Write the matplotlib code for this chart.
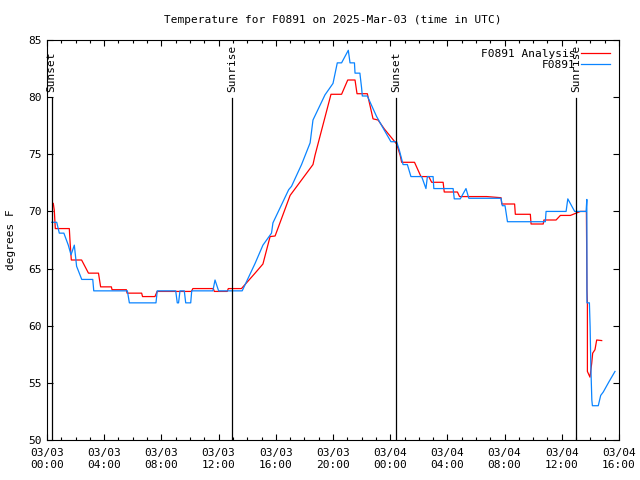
import numpy as np
import pandas as pd
import matplotlib
matplotlib.use('Agg')
import matplotlib.pyplot as plt
import matplotlib.dates as mdates
import matplotlib.transforms as mtransforms

plt.rcParams['font.family'] = ['DejaVu Sans Mono']
plt.rcParams['font.size'] = 8

base = pd.Timestamp('2025-03-03 00:00')

# analysis series: hours after 03/03 00:00 UTC, degrees F
ana_hours = [0.44, 0.51, 0.58, 1.56, 1.62, 1.70, 2.42, 2.90, 3.60, 3.75, 4.50, 4.55,
             5.55, 5.60, 6.62, 6.68, 7.55, 7.70, 10.1, 10.2, 11.63, 11.7, 12.6, 12.68,
             13.6, 14.55, 15.1, 15.6, 15.95, 17.0, 17.8, 18.6, 18.74, 19.2, 19.86, 20.6,
             21.03, 21.54, 21.68, 22.4, 22.8, 23.15, 23.6, 24.45, 24.7, 24.8, 25.7, 26.15,
             26.7, 26.9, 27.7, 27.78, 28.7, 28.85, 30.75, 31.75, 31.8, 32.7, 32.75, 33.8,
             33.85, 34.7, 34.75, 35.6, 35.9, 36.6, 37.3, 37.72, 37.74, 37.76, 37.79, 37.79,
             37.97, 38.09, 38.16, 38.32, 38.44, 38.79]
ana_temp = [70.7, 70.1, 68.5, 68.5, 67.2, 65.75, 65.75, 64.6, 64.6, 63.4, 63.4, 63.15,
            63.15, 62.85, 62.85, 62.55, 62.55, 63.0, 63.0, 63.25, 63.25, 63.0, 63.0, 63.25,
            63.25, 64.6, 65.4, 67.8, 67.85, 71.4, 72.75, 74.1, 74.9, 77.1, 80.25, 80.25,
            81.5, 81.5, 80.3, 80.3, 78.1, 78.0, 77.2, 75.9, 74.9, 74.3, 74.3, 73.05,
            73.05, 72.55, 72.55, 71.7, 71.7, 71.3, 71.3, 71.2, 70.65, 70.65, 69.75, 69.75,
            68.9, 68.9, 69.25, 69.25, 69.65, 69.65, 70.0, 70.0, 66.5, 63.1, 62.0, 56.0,
            55.5, 56.7, 57.6, 57.9, 58.75, 58.7]

# station observations
obs_hours = [0.33, 0.68, 0.86, 1.18, 1.49, 1.68, 1.91, 2.07, 2.43, 3.20, 3.27, 5.62,
             5.76, 7.62, 7.71, 9.0, 9.11, 9.2, 9.3, 9.6, 9.7, 10.05, 10.12, 11.6,
             11.75, 12.0, 13.65, 14.55, 15.1, 15.7, 15.8, 16.9, 17.1, 17.8, 18.4, 18.6,
             19.44, 20.0, 20.3, 20.6, 21.07, 21.19, 21.5, 21.54, 21.88, 22.0, 22.05, 22.4,
             23.05, 23.5, 24.05, 24.45, 24.63, 24.9, 25.2, 25.45, 26.2, 26.5, 26.6, 27.0,
             27.05, 28.4, 28.48, 28.9, 29.3, 29.5, 31.75, 31.84, 32.03, 32.2, 34.85, 34.9,
             36.3, 36.42, 36.9, 37.7, 37.75, 37.76, 37.93, 37.98, 38.03, 38.1, 38.14, 38.55,
             38.72, 38.9, 39.3, 39.72]
obs_temp = [69.05, 69.05, 68.1, 68.1, 67.05, 66.2, 67.05, 65.2, 64.05, 64.05, 63.05, 63.05,
            62.0, 62.0, 63.05, 63.05, 62.0, 62.0, 63.05, 63.05, 62.0, 62.0, 63.05, 63.05,
            64.0, 63.05, 63.05, 65.45, 67.05, 68.1, 69.0, 71.9, 72.2, 74.1, 76.0, 78.0,
            80.2, 81.2, 83.0, 83.0, 84.1, 83.0, 83.0, 82.1, 82.1, 80.8, 80.1, 80.1,
            78.3, 77.3, 76.1, 76.1, 75.4, 74.1, 74.1, 73.05, 73.05, 72.0, 73.05, 73.05,
            72.0, 72.0, 71.1, 71.1, 72.0, 71.15, 71.15, 70.5, 70.5, 69.1, 69.1, 70.0,
            70.0, 71.1, 70.0, 70.0, 71.05, 62.0, 62.0, 59.9, 56.5, 53.5, 53.0, 53.0,
            53.9, 54.2, 55.1, 56.0]

sun_hours = [0.33, 12.92, 24.43, 37.01]
sun_labels = ['Sunset', 'Sunrise', 'Sunset', 'Sunrise']


def to_time(hours):
    return base + pd.to_timedelta(np.asarray(hours), unit='h')


fig = plt.figure(figsize=(6.4, 4.8), dpi=100)
ax = fig.add_axes([47/640, 1 - 440/480, 572/640, 400/480])

ax.plot(to_time(ana_hours), ana_temp, c='#ff0000', lw=0.9, label='F0891 Analysis')
ax.plot(to_time(obs_hours), obs_temp, c='#0a84ff', lw=0.9, label='F0891')

trans = mtransforms.blended_transform_factory(ax.transData, ax.transAxes)
for t, lab in zip(to_time(sun_hours), sun_labels):
    ax.axvline(t, ymin=0, ymax=0.855, c='k', lw=0.9)
    ax.text(t, 0.87, lab, rotation=90, transform=trans, ha='center', va='bottom', fontsize=8)

ax.set_xlim(base, base + pd.Timedelta(hours=40))
ax.set_ylim(50, 85)
ax.set_yticks(np.arange(50, 86, 5))
ax.xaxis.set_major_locator(mdates.HourLocator(byhour=range(0, 24, 4)))
ax.xaxis.set_minor_locator(mdates.HourLocator())
ax.xaxis.set_major_formatter(mdates.DateFormatter('%m/%d\n%H:%M'))

for axis in ['top', 'bottom', 'left', 'right']:
    ax.spines[axis].set_linewidth(0.8)
ax.tick_params(which='both', direction='in', top=True, right=True, width=0.8, labelsize=8)
ax.tick_params(which='major', length=4.5)
ax.tick_params(which='minor', length=2.5)
ax.tick_params(axis='x', pad=6)

ax.set_ylabel('degrees F', fontsize=8, labelpad=9)
fig.text(333/640, 1 - 20/480, 'Temperature for F0891 on 2025-Mar-03 (time in UTC)',
         ha='center', va='center', fontsize=8)

ax.legend(loc='upper right', bbox_to_anchor=(1.0, 1.0), frameon=False, markerfirst=False,
          handlelength=2.6, handletextpad=0.5, labelspacing=0.1, borderaxespad=0.4,
          fontsize=8)

plt.savefig('out.png', dpi=100)
plt.close()
